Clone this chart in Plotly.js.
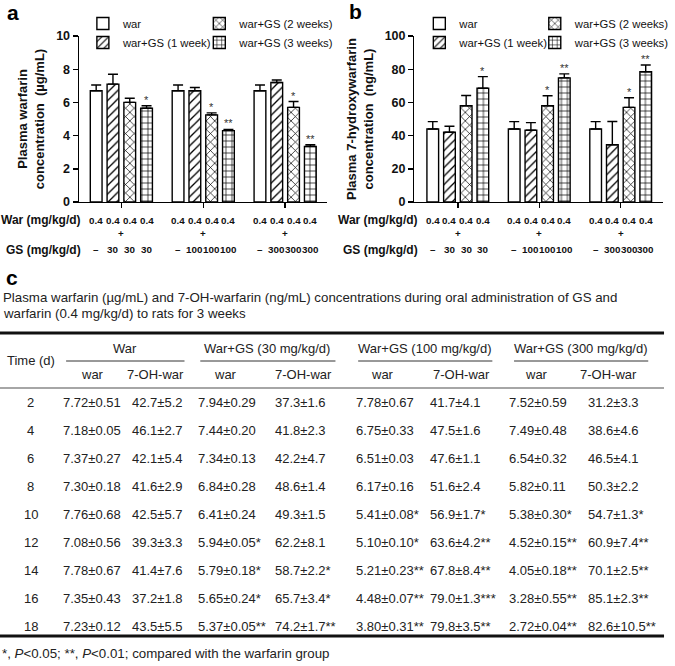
<!DOCTYPE html>
<html><head><meta charset="utf-8">
<script src="https://cdn.plot.ly/plotly-3.0.1.min.js"></script>
<style>html,body{margin:0;padding:0;background:#fff}</style>
</head><body><div id="chart" style="width:675px;height:666px"></div>
<script>
// ---------- bar chart data ----------
const groupIdx = [0, 1, 2];
const gsDoses = ["30", "100", "300"];
const warDose = "0.4";
const seriesNames = ["war", "war+GS (1 week)", "war+GS (2 weeks)", "war+GS (3 weeks)"];

// panel a: plasma warfarin (µg/mL)
const aWar = [6.7, 6.7, 6.7];     const aWarErr = [0.35, 0.35, 0.35];
const aWk1 = [7.1, 6.7, 7.2];     const aWk1Err = [0.6, 0.2, 0.15];
const aWk2 = [6.0, 5.25, 5.7];    const aWk2Err = [0.25, 0.12, 0.35];
const aWk3 = [5.65, 4.3, 3.35];   const aWk3Err = [0.15, 0.07, 0.1];
const aSigWk2 = ["", "*", "*"];   const aSigWk3 = ["*", "**", "**"];

// panel b: plasma 7-hydroxywarfarin (ng/mL)
const bWar = [44, 44, 44];        const bWarErr = [4.4, 4.4, 4.4];
const bWk1 = [42, 43.2, 34.5];    const bWk1Err = [3.6, 4.6, 14];
const bWk2 = [58, 58, 57];        const bWk2Err = [6.2, 6, 5.8];
const bWk3 = [68.5, 74.8, 78.5];  const bWk3Err = [7, 2.4, 4];
const bSigWk2 = ["", "*", "*"];   const bSigWk3 = ["*", "**", "**"];

// ---------- table data ----------
const tableCaption = ["Plasma warfarin (µg/mL) and 7-OH-warfarin (ng/mL) concentrations during oral administration of GS and",
                      "warfarin (0.4 mg/kg/d) to rats for 3 weeks"];
const groupHeaders = ["War", "War+GS (30 mg/kg/d)", "War+GS (100 mg/kg/d)", "War+GS (300 mg/kg/d)"];
const subHeaders = ["war", "7-OH-war", "war", "7-OH-war", "war", "7-OH-war", "war", "7-OH-war"];
const times = ["2", "4", "6", "8", "10", "12", "14", "16", "18"];
const cWarWar = ["7.72±0.51","7.18±0.05","7.37±0.27","7.30±0.18","7.76±0.68","7.08±0.56","7.78±0.67","7.35±0.43","7.23±0.12"];
const cWarOH  = ["42.7±5.2","46.1±2.7","42.1±5.4","41.6±2.9","42.5±5.7","39.3±3.3","41.4±7.6","37.2±1.8","43.5±5.5"];
const c30War  = ["7.94±0.29","7.44±0.20","7.34±0.13","6.84±0.28","6.41±0.24","5.94±0.05*","5.79±0.18*","5.65±0.24*","5.37±0.05**"];
const c30OH   = ["37.3±1.6","41.8±2.3","42.2±4.7","48.6±1.4","49.3±1.5","62.2±8.1","58.7±2.2*","65.7±3.4*","74.2±1.7**"];
const c100War = ["7.78±0.67","6.75±0.33","6.51±0.03","6.17±0.16","5.41±0.08*","5.10±0.10*","5.21±0.23**","4.48±0.07**","3.80±0.31**"];
const c100OH  = ["41.7±4.1","47.5±1.6","47.6±1.1","51.6±2.4","56.9±1.7*","63.6±4.2**","67.8±8.4**","79.0±1.3***","79.8±3.5**"];
const c300War = ["7.52±0.59","7.49±0.48","6.54±0.32","5.82±0.11","5.38±0.30*","4.52±0.15**","4.05±0.18**","3.28±0.55**","2.72±0.04**"];
const c300OH  = ["31.2±3.3","38.6±4.6","46.5±4.1","50.3±2.2","54.7±1.3*","60.9±7.4**","70.1±2.5**","85.1±2.3**","82.6±10.5**"];
const footnote = "*, <i>P</i>&lt;0.05; **, <i>P</i>&lt;0.01; compared with the warfarin group";

// ---------- styling / layout (pixels of the 675x666 canvas) ----------
const W = 675, H = 666;
const FONT = "Liberation Sans, Arial, sans-serif";
const px = v => v / W;
const py = v => 1 - v / H;
const patterns = ["", "/", "x", "+"];
const BARGAP = 0.18;
const slot = (1 - BARGAP) / 4;
const barOffset = i => (i - 1.5) * slot;

const traces = [];
const annotations = [];
const shapes = [];

function panel(p, means, errs, sigs) {
  const xa = p === 0 ? "x" : "x2", ya = p === 0 ? "y" : "y2";
  means.forEach((m, s) => {
    const li = p * 2 + (s < 2 ? 0 : 1) + 1;
    traces.push({
      type: "bar", x: groupIdx, y: m, name: seriesNames[s],
      xaxis: xa, yaxis: ya,
      legend: li === 1 ? "legend" : "legend" + li,
      marker: { color: "white", line: { color: "black", width: 1.4 },
        pattern: { shape: patterns[s], fgcolor: "black", bgcolor: "white", size: 6, solidity: 0.22 } },
      error_y: { type: "data", symmetric: false, array: errs[s], arrayminus: errs[s].map(() => 0),
        color: "black", thickness: 1.4, width: 5 },
      hoverinfo: "skip"
    });
    if (sigs[s]) sigs[s].forEach((t, g) => {
      if (!t) return;
      annotations.push({ xref: xa, yref: ya, x: g + barOffset(s), y: m[g] + errs[s][g], xanchor: "center",
        yanchor: "bottom", yshift: -2, text: t, showarrow: false, font: { family: FONT, size: 11, color: "#333" } });
    });
  });
  const lab = (text, g, off, y) => annotations.push({ xref: xa, yref: "paper", x: g + off, y: py(y),
    xanchor: "center", yanchor: "middle", text: "<b>" + text + "</b>", showarrow: false,
    font: { family: FONT, size: 9.8, color: "#111" } });
  groupIdx.forEach(g => {
    for (let s = 0; s < 4; s++) {
      lab(warDose, g, barOffset(s), 220);
      lab(s === 0 ? "–" : gsDoses[g], g, barOffset(s), 250);
    }
    lab("+", g, 0, 234);
  });
  const rx = p === 0 ? 84 : 426;
  [["War (mg/kg/d)", 220], ["GS (mg/kg/d)", 250]].forEach(([t, y]) => annotations.push({
    xref: "paper", yref: "paper", x: px(rx), y: py(y), xanchor: "right", yanchor: "middle", text: "<b>" + t + "</b>",
    showarrow: false, font: { family: FONT, size: 12, color: "#111" } }));
}
panel(0, [aWar, aWk1, aWk2, aWk3], [aWarErr, aWk1Err, aWk2Err, aWk3Err], [null, null, aSigWk2, aSigWk3]);
panel(1, [bWar, bWk1, bWk2, bWk3], [bWarErr, bWk1Err, bWk2Err, bWk3Err], [null, null, bSigWk2, bSigWk3]);

// panel letters
[["a", 5, 12], ["b", 352, 11], ["c", 4, 277]].forEach(([t, x, y]) => annotations.push({
  xref: "paper", yref: "paper", x: px(x), y: py(y), xanchor: "left", yanchor: "middle", text: "<b>" + t + "</b>",
  showarrow: false, font: { family: FONT, size: 21, color: "#000" } }));

// ---------- table ----------
const tFont = { family: FONT, size: 13, color: "#222" };
const tAnn = (text, x, y, anchor, size) => annotations.push({ xref: "paper", yref: "paper", x: px(x), y: py(y),
  xanchor: anchor || "center", yanchor: "middle", text: text, showarrow: false,
  font: size ? Object.assign({}, tFont, { size: size }) : tFont });
tableCaption.forEach((t, i) => tAnn(t, 1, 297 + i * 16, "left", 13.3));
const groupCenters = [127, 271, 431, 589];
const groupLineSpans = [[67, 187], [203, 340], [363, 499], [521, 657]];
groupHeaders.forEach((t, i) => tAnn(t, groupCenters[i], 348));
tAnn("Time (d)", 31, 360);
const subCenters = [94, 158, 229, 308, 388, 468, 544, 617];
subHeaders.forEach((t, i) => tAnn(t, subCenters[i], 374));
const colLeft = [65, 135, 202, 280, 362, 437, 517, 597];
const rowY = times.map((t, i) => 402 + i * 28);
const cols = [cWarWar, cWarOH, c30War, c30OH, c100War, c100OH, c300War, c300OH];
times.forEach((t, i) => tAnn(t, 31, rowY[i]));
cols.forEach((col, c) => col.forEach((v, r) => tAnn(v, colLeft[c] - 3, rowY[r], "left")));
tAnn(footnote, 0, 653, "left", 13.3);

const hline = (x0, x1, y, w, color) => shapes.push({ type: "line", xref: "paper", yref: "paper",
  x0: px(x0), x1: px(x1), y0: py(y), y1: py(y), line: { color: color, width: w } });
hline(0, 673, 333, 2.8, "#111");
groupLineSpans.forEach(([a, b]) => hline(a, b, 361, 1, "#333"));
hline(0, 673, 388, 1.3, "#888");
hline(0, 673, 636, 2.8, "#111");

// ---------- axes ----------
const yDom = [py(202), py(36)];
function xAxis(dom, range, anchor) {
  return { domain: dom, range: range, anchor: anchor, tickvals: groupIdx, showticklabels: false, ticks: "outside",
    ticklen: 5, tickwidth: 1.4, tickcolor: "black", showline: true, linecolor: "black", linewidth: 1.4,
    showgrid: false, zeroline: false, fixedrange: true };
}
function yAxis(dom, max, title, anchor) {
  const vals = []; for (let v = 0; v <= max; v += max / 5) vals.push(v);
  return { domain: dom, range: [0, max], tickvals: vals, ticks: "outside", ticklen: 5, tickwidth: 1.4,
    tickcolor: "black", showline: true, linecolor: "black", linewidth: 1.4, showgrid: false, zeroline: false,
    anchor: anchor, tickfont: { family: FONT, size: 12.5, color: "#111", weight: 700 },
    title: { text: title, standoff: 8, font: { family: FONT, size: 13, color: "#111", weight: 700 } },
    fixedrange: true };
}
const legendAt = (x) => ({
  orientation: "v", xanchor: "left", yanchor: "top", x: px(x), y: py(9),
  bgcolor: "rgba(0,0,0,0)", font: { family: FONT, size: 11.3, color: "#111" }, itemclick: false, itemdoubleclick: false
});

const layout = {
  width: W, height: H, margin: { l: 0, r: 0, t: 0, b: 0 },
  paper_bgcolor: "white", plot_bgcolor: "white",
  barmode: "group", bargap: BARGAP, bargroupgap: 0.3,
  showlegend: true,
  xaxis: xAxis([px(80), px(331)], [-0.518, 2.506], "y"),
  yaxis: yAxis(yDom, 10, "Plasma warfarin<br>concentration&nbsp; (µg/mL)", "x"),
  xaxis2: xAxis([px(420), px(672)], [-0.533, 2.52], "y2"),
  yaxis2: yAxis(yDom, 100, "Plasma 7-hydroxywarfarin<br>concentration&nbsp; (ng/mL)", "x2"),
  legend: legendAt(84), legend2: legendAt(202), legend3: legendAt(425), legend4: legendAt(542),
  annotations: annotations,
  shapes: shapes
};

Plotly.newPlot("chart", traces, layout, { staticPlot: true, displayModeBar: false });
</script></body></html>
